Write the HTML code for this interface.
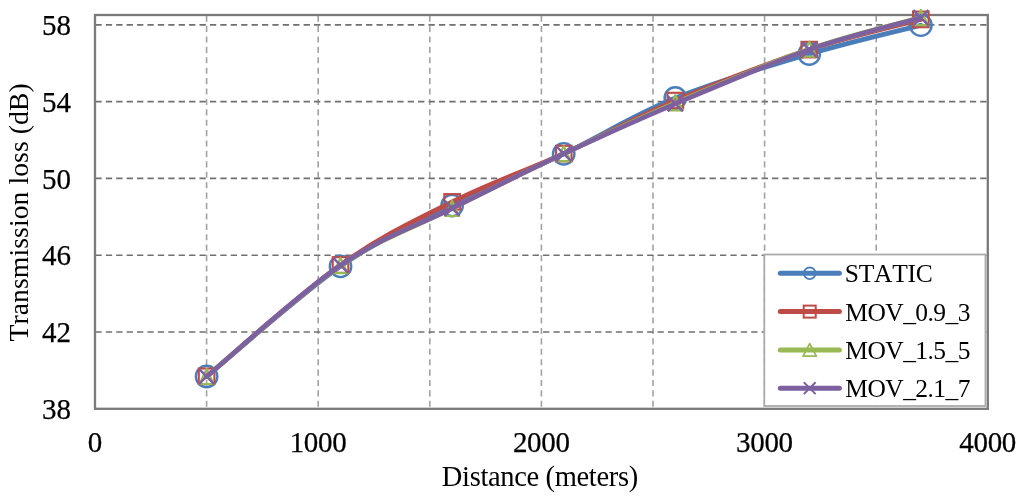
<!DOCTYPE html>
<html><head><meta charset="utf-8"><style>
html,body{margin:0;padding:0;background:#fff;width:1024px;height:501px;overflow:hidden}
svg{display:block;will-change:transform}
text{font-family:"Liberation Serif",serif;fill:#000;font-kerning:none;stroke:#000;stroke-width:0.25px}
.ax{font-size:29px}
.ttl{font-size:28.5px;stroke-width:0}
.lt{font-size:25.5px;stroke-width:0}
.gh{stroke:#707070;stroke-width:1.7;stroke-dasharray:6.3 4.11;stroke-dashoffset:-0.4}
.gv{stroke:#a2a2a2;stroke-width:1.6;stroke-dasharray:6.1 4.31;stroke-dashoffset:-0.6}
</style></head><body>
<svg width="1024" height="501" viewBox="0 0 1024 501">
<line x1="206.60" y1="15" x2="206.60" y2="408.8" class="gv"/>
<line x1="318.20" y1="15" x2="318.20" y2="408.8" class="gv"/>
<line x1="429.80" y1="15" x2="429.80" y2="408.8" class="gv"/>
<line x1="541.40" y1="15" x2="541.40" y2="408.8" class="gv"/>
<line x1="653.00" y1="15" x2="653.00" y2="408.8" class="gv"/>
<line x1="764.60" y1="15" x2="764.60" y2="408.8" class="gv"/>
<line x1="876.20" y1="15" x2="876.20" y2="408.8" class="gv"/>
<line x1="95.0" y1="332.02" x2="987.8" y2="332.02" class="gh"/>
<line x1="95.0" y1="255.24" x2="987.8" y2="255.24" class="gh"/>
<line x1="95.0" y1="178.46" x2="987.8" y2="178.46" class="gh"/>
<line x1="95.0" y1="101.68" x2="987.8" y2="101.68" class="gh"/>
<line x1="95.0" y1="24.90" x2="987.8" y2="24.90" class="gh"/>
<rect x="95.0" y="15" width="892.80" height="393.80" fill="none" stroke="#7a7a7a" stroke-width="2.3"/>
<path d="M206.60,376.50 C228.92,358.15 299.60,294.90 340.52,266.40 C381.44,237.90 414.92,224.27 452.12,205.50 C489.32,186.73 526.52,171.72 563.72,153.80 C600.92,135.88 634.40,114.63 675.32,98.00 C716.24,81.37 768.32,66.13 809.24,54.00 C850.16,41.87 902.24,30.00 920.84,25.20" fill="none" stroke="#4A7EBB" stroke-width="4.7" stroke-linecap="round" stroke-linejoin="round"/>
<circle cx="206.60" cy="376.50" r="10.70" fill="none" stroke="#4A7EBB" stroke-width="2.4"/>
<circle cx="340.52" cy="266.40" r="10.70" fill="none" stroke="#4A7EBB" stroke-width="2.4"/>
<circle cx="452.12" cy="205.50" r="10.70" fill="none" stroke="#4A7EBB" stroke-width="2.4"/>
<circle cx="563.72" cy="153.80" r="10.70" fill="none" stroke="#4A7EBB" stroke-width="2.4"/>
<circle cx="675.32" cy="98.00" r="10.70" fill="none" stroke="#4A7EBB" stroke-width="2.4"/>
<circle cx="809.24" cy="54.00" r="10.70" fill="none" stroke="#4A7EBB" stroke-width="2.4"/>
<circle cx="920.84" cy="25.20" r="10.70" fill="none" stroke="#4A7EBB" stroke-width="2.4"/>
<path d="M206.60,376.30 C228.92,357.75 299.60,294.07 340.52,265.00 C381.44,235.93 414.92,220.47 452.12,201.90 C489.32,183.33 526.52,170.48 563.72,153.60 C600.92,136.72 634.40,117.93 675.32,100.60 C716.24,83.27 768.32,63.13 809.24,49.60 C850.16,36.07 902.24,24.43 920.84,19.40" fill="none" stroke="#BE4B48" stroke-width="4.7" stroke-linecap="round" stroke-linejoin="round"/>
<rect x="198.80" y="368.50" width="15.60" height="15.60" fill="none" stroke="#BE4B48" stroke-width="2.1"/>
<rect x="332.72" y="257.20" width="15.60" height="15.60" fill="none" stroke="#BE4B48" stroke-width="2.1"/>
<rect x="444.32" y="194.10" width="15.60" height="15.60" fill="none" stroke="#BE4B48" stroke-width="2.1"/>
<rect x="555.92" y="145.80" width="15.60" height="15.60" fill="none" stroke="#BE4B48" stroke-width="2.1"/>
<rect x="667.52" y="92.80" width="15.60" height="15.60" fill="none" stroke="#BE4B48" stroke-width="2.1"/>
<rect x="801.44" y="41.80" width="15.60" height="15.60" fill="none" stroke="#BE4B48" stroke-width="2.1"/>
<rect x="913.04" y="11.60" width="15.60" height="15.60" fill="none" stroke="#BE4B48" stroke-width="2.1"/>
<path d="M206.60,376.50 C228.92,358.02 299.60,293.60 340.52,265.60 C381.44,237.60 414.92,227.15 452.12,208.50 C489.32,189.85 526.52,171.32 563.72,153.70 C600.92,136.08 634.40,120.22 675.32,102.80 C716.24,85.38 768.32,63.40 809.24,49.20 C850.16,35.00 902.24,22.87 920.84,17.60" fill="none" stroke="#98B954" stroke-width="4.7" stroke-linecap="round" stroke-linejoin="round"/>
<path d="M206.60,368.90 L213.60,384.00 L199.60,384.00 Z" fill="none" stroke="#98B954" stroke-width="2.2" stroke-linejoin="round"/>
<path d="M340.52,258.00 L347.52,273.10 L333.52,273.10 Z" fill="none" stroke="#98B954" stroke-width="2.2" stroke-linejoin="round"/>
<path d="M452.12,200.90 L459.12,216.00 L445.12,216.00 Z" fill="none" stroke="#98B954" stroke-width="2.2" stroke-linejoin="round"/>
<path d="M563.72,146.10 L570.72,161.20 L556.72,161.20 Z" fill="none" stroke="#98B954" stroke-width="2.2" stroke-linejoin="round"/>
<path d="M675.32,95.20 L682.32,110.30 L668.32,110.30 Z" fill="none" stroke="#98B954" stroke-width="2.2" stroke-linejoin="round"/>
<path d="M809.24,41.60 L816.24,56.70 L802.24,56.70 Z" fill="none" stroke="#98B954" stroke-width="2.2" stroke-linejoin="round"/>
<path d="M920.84,10.00 L927.84,25.10 L913.84,25.10 Z" fill="none" stroke="#98B954" stroke-width="2.2" stroke-linejoin="round"/>
<path d="M206.60,376.50 C228.92,357.97 299.60,293.33 340.52,265.30 C381.44,237.27 414.92,226.90 452.12,208.30 C489.32,189.70 526.52,171.12 563.72,153.70 C600.92,136.28 634.40,121.15 675.32,103.80 C716.24,86.45 768.32,63.93 809.24,49.60 C850.16,35.27 902.24,23.10 920.84,17.80" fill="none" stroke="#7D60A0" stroke-width="4.7" stroke-linecap="round" stroke-linejoin="round"/>
<path d="M199.00,368.90 L214.20,384.10 M214.20,368.90 L199.00,384.10" stroke="#7D60A0" stroke-width="2.5"/>
<path d="M332.92,257.70 L348.12,272.90 M348.12,257.70 L332.92,272.90" stroke="#7D60A0" stroke-width="2.5"/>
<path d="M444.52,200.70 L459.72,215.90 M459.72,200.70 L444.52,215.90" stroke="#7D60A0" stroke-width="2.5"/>
<path d="M556.12,146.10 L571.32,161.30 M571.32,146.10 L556.12,161.30" stroke="#7D60A0" stroke-width="2.5"/>
<path d="M667.72,96.20 L682.92,111.40 M682.92,96.20 L667.72,111.40" stroke="#7D60A0" stroke-width="2.5"/>
<path d="M801.64,42.00 L816.84,57.20 M816.84,42.00 L801.64,57.20" stroke="#7D60A0" stroke-width="2.5"/>
<path d="M913.24,10.20 L928.44,25.40 M928.44,10.20 L913.24,25.40" stroke="#7D60A0" stroke-width="2.5"/>
<rect x="764.3" y="254.5" width="221.20" height="151.50" fill="#fff" stroke="#ABABAB" stroke-width="1.8"/>
<line x1="780.3" y1="273.30" x2="839.4" y2="273.30" stroke="#4A7EBB" stroke-width="5" stroke-linecap="round"/>
<circle cx="809.70" cy="273.30" r="5.80" fill="none" stroke="#4A7EBB" stroke-width="1.8"/>
<text x="844.8" y="282.20" class="lt" textLength="87.85" lengthAdjust="spacing">STATIC</text>
<line x1="780.3" y1="311.60" x2="839.4" y2="311.60" stroke="#BE4B48" stroke-width="5" stroke-linecap="round"/>
<rect x="803.70" y="305.60" width="12.00" height="12.00" fill="none" stroke="#BE4B48" stroke-width="2.0"/>
<text x="845.3" y="320.50" class="lt" textLength="125.2" lengthAdjust="spacing">MOV_0.9_3</text>
<line x1="780.3" y1="349.90" x2="839.4" y2="349.90" stroke="#98B954" stroke-width="5" stroke-linecap="round"/>
<path d="M809.70,343.60 L816.30,356.20 L803.10,356.20 Z" fill="none" stroke="#98B954" stroke-width="1.8" stroke-linejoin="round"/>
<text x="845.3" y="358.80" class="lt" textLength="125.2" lengthAdjust="spacing">MOV_1.5_5</text>
<line x1="780.3" y1="388.20" x2="839.4" y2="388.20" stroke="#7D60A0" stroke-width="5" stroke-linecap="round"/>
<path d="M803.80,382.30 L815.60,394.10 M815.60,382.30 L803.80,394.10" stroke="#7D60A0" stroke-width="2.0"/>
<text x="845.3" y="397.10" class="lt" textLength="125.2" lengthAdjust="spacing">MOV_2.1_7</text>
<text x="71" y="419.00" class="ax" text-anchor="end">38</text>
<text x="71" y="342.22" class="ax" text-anchor="end">42</text>
<text x="71" y="265.44" class="ax" text-anchor="end">46</text>
<text x="71" y="188.66" class="ax" text-anchor="end">50</text>
<text x="71" y="111.88" class="ax" text-anchor="end">54</text>
<text x="71" y="35.10" class="ax" text-anchor="end">58</text>
<text x="95.00" y="452.3" class="ax" text-anchor="middle" textLength="14.25" lengthAdjust="spacing">0</text>
<text x="318.20" y="452.3" class="ax" text-anchor="middle" textLength="57" lengthAdjust="spacing">1000</text>
<text x="541.40" y="452.3" class="ax" text-anchor="middle" textLength="57" lengthAdjust="spacing">2000</text>
<text x="764.60" y="452.3" class="ax" text-anchor="middle" textLength="57" lengthAdjust="spacing">3000</text>
<text x="987.80" y="452.3" class="ax" text-anchor="middle" textLength="57" lengthAdjust="spacing">4000</text>
<text x="540" y="485.6" class="ttl" text-anchor="middle" textLength="196.3" lengthAdjust="spacing">Distance (meters)</text>
<text transform="translate(27.9,212.4) rotate(-90)" x="0" y="0" class="ttl" style="font-size:27.6px" text-anchor="middle" textLength="258.2" lengthAdjust="spacing">Transmission loss (dB)</text>
</svg>
</body></html>
